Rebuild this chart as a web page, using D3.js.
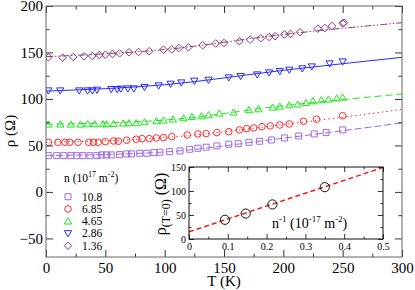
<!DOCTYPE html>
<html>
<head>
<meta charset="utf-8">
<script src="https://cdn.jsdelivr.net/npm/d3@7"></script>
<style>
  body { margin: 0; background: #fff; }
  svg text { font-family: "Liberation Serif", "Times New Roman", "DejaVu Serif", serif; fill: #000; }
</style>
</head>
<body>
<div id="chart"></div>
<script>
// resistivity vs temperature, one series per density n (1e17 m^-2)
var tSq  = [2,9,15,21,26,31,37,43,47,51,55,62,68,72,79,85,91,96,104,113,121,128,135,144,154,162,171,180,190,201,213,226,236,250];
var rhoSq = [39,39,39,39,39,39,39,39,39.8,39.8,39.8,40.1,40.9,40.9,41.6,41.6,42.3,42.7,43.3,44.1,45.9,47,48.1,49.5,51.3,51.9,53.4,54.5,55.9,58.1,60.2,62.4,63.8,66.7];

var tCirc  = [2,10,16,20,27,36,40,44,50,57,61,68,76,81,87,93,99,106,119,128,135,144,154,163,169,175,182,189,197,205,217,228,250];
var rhoCirc = [53.4,53.4,53.4,53.4,53.4,53.4,53.4,53.4,54.1,54.8,54.5,55.6,56.7,57.3,57.3,58.1,58.4,59.5,61.3,62.4,62.7,63.8,64.8,66.7,68.1,68.8,70.2,71,72,73.1,76,78.2,82];

var tUp  = [2,12,21,29,35,41,48,51,57,65,70,76,83,93,99,107,116,123,131,137,146,158,171,179,191,197,205,212,219,225,232,238,245,250];
var rhoUp = [72.8,72.8,72.8,72.8,73.1,73.1,73.1,73.1,73.4,73.9,74.2,74.2,75.3,76.3,77.1,78.2,79.6,81,81.7,82.8,84.6,85.7,88.2,89.2,91,92.1,93.5,94.3,96,97.8,98.9,99.7,100.8,101.8];

var tDown  = [2,12,28,35,39,43,55,60,63,69,74,83,95,105,114,125,137,154,164,178,188,197,205,216,224,239,250];
var rhoDown = [108.9,108.9,108.9,108.9,108.9,109.7,110.4,110.4,110.8,111.1,111.1,112.6,114.3,116.1,117.5,119.4,120.4,122.9,124.4,126.1,128.3,129.8,131.2,132.6,134.7,138,140.1];

var tDiam  = [2,14,23,32,39,45,50,56,62,70,78,87,99,106,112,120,132,143,150,163,172,181,188,193,201,206,214,229,235,241,250,251];
var rhoDiam = [144.8,144.4,145.2,145.9,146.2,147.3,147.6,148.4,149.1,150.2,150.5,151.3,153,153.4,154.8,155.6,157.7,159.7,160.2,162.2,163.8,165.3,166.7,167.5,169.4,169.9,171.7,175.6,176.3,178.5,181.4,182];

// fit curves at T = 0, 100, 200, 300
var fitT = [0, 100, 200, 300];
var fitSq   = [39, 43, 57.8, 74.2];
var fitCirc = [53.4, 58.4, 72.5, 88.7];
var fitUp   = [72.8, 77.3, 92.7, 105.4];
var fitDown = [108.5, 115.3, 130.8, 144.8];
var fitDiam = [145.5, 153.2, 169.4, 182];

var legendLabels = ["10.8", "6.85", "4.65", "2.86", "1.36"];

// inset: rho(T=0) vs 1/n
var invN = [0.0926, 0.146, 0.215, 0.35];
var rho0 = [40, 53, 72, 108];
var fitInvN = [0, 0.5];
var fitRho0 = [15, 149];

var W = 415, H = 290;
var svg = d3.select("#chart").append("svg").attr("width", W).attr("height", H);

var x = d3.scaleLinear().domain([0, 300]).range([46, 402]);
var y = d3.scaleLinear().domain([-70, 200]).range([257, 6]);

// symbol paths centred on 0,0
function shape(kind) {
  if (kind == "sq") return "M-3,-3H3V3H-3Z";
  if (kind == "circ") return d3.symbol().type(d3.symbolCircle).size(34)();
  if (kind == "up") return "M0,-3.4L3.6,2.8H-3.6Z";
  if (kind == "down") return "M0,3.4L3.6,-2.8H-3.6Z";
  return "M0,-3.8L3.8,0L0,3.8L-3.8,0Z";
}

var series = [
  {t: tSq, v: rhoSq, fit: fitSq, kind: "sq", color: "#9f6be0", dash: "7,3"},
  {t: tCirc, v: rhoCirc, fit: fitCirc, kind: "circ", color: "#ff2a2a", dash: "1.5,3"},
  {t: tUp, v: rhoUp, fit: fitUp, kind: "up", color: "#1ee81e", dash: "7,4"},
  {t: tDown, v: rhoDown, fit: fitDown, kind: "down", color: "#2a2aff", dash: null},
  {t: tDiam, v: rhoDiam, fit: fitDiam, kind: "diam", color: "#8c3a78", dash: "7,2,1.5,2,1.5,2"}
];

var fitLine = d3.line()
  .x(function(d) { return x(d[0]); })
  .y(function(d) { return y(d[1]); })
  .curve(d3.curveMonotoneX);

svg.append("defs").append("clipPath").attr("id", "clip")
  .append("rect").attr("x", 46).attr("y", 6).attr("width", 356).attr("height", 251);

var plot = svg.append("g").attr("clip-path", "url(#clip)");

series.forEach(function(s) {
  plot.append("path")
    .datum(fitT.map(function(t, i) { return [t, s.fit[i]]; }))
    .attr("d", fitLine)
    .attr("fill", "none")
    .attr("stroke", s.color)
    .attr("stroke-width", 1)
    .attr("stroke-dasharray", s.dash);
  plot.selectAll(null)
    .data(s.t.map(function(t, i) { return [t, s.v[i]]; }))
    .enter().append("path")
    .attr("d", shape(s.kind))
    .attr("transform", function(d) { return "translate(" + x(d[0]) + "," + y(d[1]) + ")"; })
    .attr("fill", "none")
    .attr("stroke", s.color)
    .attr("stroke-width", 1);
});

// axes with inward ticks on all four sides
function ticks(g, mkAxis, major, minor, len, fmt) {
  var gMin = g.append("g").call(mkAxis().tickValues(minor).tickSize(-len / 2).tickFormat(""));
  var gMaj = g.append("g").call(mkAxis().tickValues(major).tickSize(-len).tickFormat(fmt || ""));
  [gMin, gMaj].forEach(function(a) {
    a.select(".domain").remove();
    a.selectAll("line").attr("stroke", "#333");
    a.attr("font-family", null);
  });
  return gMaj;
}

function frame(g, xs, ys, xMaj, xMin, yMaj, yMin, len, fs, xfmt, yfmt, col) {
  var x0 = xs.range()[0], x1 = xs.range()[1], y0 = ys.range()[0], y1 = ys.range()[1];
  var b = ticks(g.append("g").attr("transform", "translate(0," + y0 + ")"),
    function() { return d3.axisBottom(xs); }, xMaj, xMin, len, xfmt);
  b.selectAll("text").attr("font-size", fs).attr("dy", "0.71em").attr("y", fs * 0.3 + 1);
  ticks(g.append("g").attr("transform", "translate(0," + y1 + ")"),
    function() { return d3.axisTop(xs); }, xMaj, xMin, len);
  var l = ticks(g.append("g").attr("transform", "translate(" + x0 + ",0)"),
    function() { return d3.axisLeft(ys); }, yMaj, yMin, len, yfmt);
  l.selectAll("text").attr("font-size", fs).attr("x", -3);
  ticks(g.append("g").attr("transform", "translate(" + x1 + ",0)"),
    function() { return d3.axisRight(ys); }, yMaj, yMin, len);
  g.append("rect").attr("x", x0).attr("y", y1).attr("width", x1 - x0).attr("height", y0 - y1)
    .attr("fill", "none").attr("stroke", col).attr("stroke-width", 1);
}

var main = svg.append("g");
frame(main, x, y, d3.range(0, 301, 50), d3.range(25, 300, 50), d3.range(-50, 201, 50), d3.range(-25, 200, 50),
  7, 15, d3.format("d"), d3.format("d"), "#666");

svg.append("text").attr("x", 224).attr("y", 286).attr("text-anchor", "middle").attr("font-size", 15).text("T (K)");
svg.append("text").attr("transform", "translate(15,131) rotate(-90)").attr("text-anchor", "middle").attr("font-size", 15).text("ρ (Ω)");

// legend
var leg = svg.append("g");
var lt = leg.append("text").attr("x", 64).attr("y", 182).attr("font-size", 11.5);
lt.append("tspan").text("n (10");
lt.append("tspan").attr("dy", -5).attr("font-size", 8).text("17");
lt.append("tspan").attr("dy", 5).text(" m");
lt.append("tspan").attr("dy", -5).attr("font-size", 8).text("-2");
lt.append("tspan").attr("dy", 5).text(")");
series.forEach(function(s, i) {
  var yy = 196.7 + i * 12.25;
  leg.append("path").attr("d", shape(s.kind)).attr("transform", "translate(68," + yy + ")")
    .attr("fill", "none").attr("stroke", s.color).attr("stroke-width", 1);
  leg.append("text").attr("x", 82).attr("y", yy + 4).attr("font-size", 11.5).text(legendLabels[i]);
});

// inset
var ix = d3.scaleLinear().domain([0, 0.5]).range([189, 383]);
var iy = d3.scaleLinear().domain([0, 150]).range([239, 167]);
var inset = svg.append("g");
inset.append("rect").attr("x", 189).attr("y", 167).attr("width", 194).attr("height", 72).attr("fill", "#fff");
inset.append("path")
  .datum(fitInvN.map(function(d, i) { return [d, fitRho0[i]]; }))
  .attr("d", d3.line().x(function(d) { return ix(d[0]); }).y(function(d) { return iy(d[1]); }))
  .attr("fill", "none").attr("stroke", "#ff1a1a").attr("stroke-width", 1.5).attr("stroke-dasharray", "5,3");
inset.selectAll("circle").data(invN).enter().append("circle")
  .attr("cx", function(d) { return ix(d); })
  .attr("cy", function(d, i) { return iy(rho0[i]); })
  .attr("r", 4.6).attr("fill", "none").attr("stroke", "#111").attr("stroke-width", 1);
frame(inset, ix, iy, d3.range(0, 0.51, 0.1), d3.range(0.05, 0.5, 0.1), [0, 50, 100, 150], [25, 75, 125],
  5, 10, function(d) { return d == 0 ? "0" : d3.format(".1f")(d); }, d3.format("d"), "#111");

var xl = inset.append("text").attr("x", 272).attr("y", 228).attr("font-size", 14);
xl.append("tspan").text("n");
xl.append("tspan").attr("dy", -6).attr("font-size", 9).text("-1");
xl.append("tspan").attr("dy", 6).text(" (10");
xl.append("tspan").attr("dy", -6).attr("font-size", 9).text("-17");
xl.append("tspan").attr("dy", 6).text(" m");
xl.append("tspan").attr("dy", -6).attr("font-size", 9).text("-2");
xl.append("tspan").attr("dy", 6).text(")");

var yl = inset.append("text").attr("transform", "translate(166,204) rotate(-90)").attr("text-anchor", "middle").attr("font-size", 16);
yl.append("tspan").text("ρ");
yl.append("tspan").attr("dy", 4).attr("font-size", 12).text("(T=0)");
yl.append("tspan").attr("dy", -4).text(" (Ω)");
</script>
</body>
</html>
